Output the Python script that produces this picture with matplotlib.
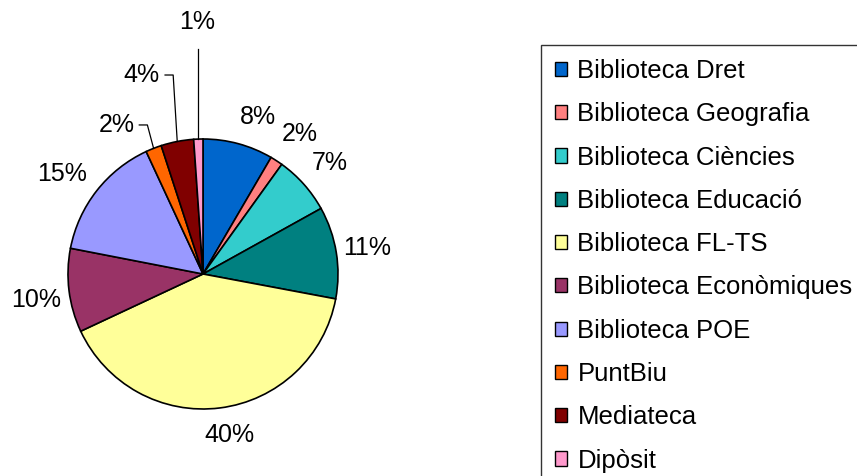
import matplotlib
matplotlib.use("Agg")
import matplotlib.pyplot as plt
import numpy as np

plt.rcParams['font.family'] = ['Liberation Sans', 'DejaVu Sans']

categories = ["Biblioteca Dret", "Biblioteca Geografia", "Biblioteca Ciències",
              "Biblioteca Educació", "Biblioteca FL-TS", "Biblioteca Econòmiques",
              "Biblioteca POE", "PuntBiu", "Mediateca", "Dipòsit"]
values = [8.4, 1.5, 7.0, 11.0, 40.0, 10.0, 15.0, 1.9, 3.9, 1.1]
colors = ["#0066CC", "#FF8080", "#33CCCC", "#008080", "#FFFF99",
          "#993366", "#9999FF", "#FF6600", "#800000", "#FF99CC"]

# label layout (axes data units, pie radius = 1)
label_pos = [(0.407, 1.163), (0.719, 1.04), (0.941, 0.822), (1.219, 0.196),
             (0.193, -1.189), (-1.235, -0.193), (-1.044, 0.741),
             (-0.639, 1.104), (-0.454, 1.474), (-0.047, 1.869)]
# leader lines: index -> start of horizontal stub (None = straight vertical)
leaders = {7: (-0.472, 1.104), 8: (-0.281, 1.474), 9: None}

W, H = 857, 476
fig = plt.figure(figsize=(W / 100, H / 100), dpi=100)
cx, cy, r = 203, 274, 135
ax = fig.add_axes([(cx - r) / W, (H - cy - r) / H, 2 * r / W, 2 * r / H])

wedges, _ = ax.pie(values, colors=colors, startangle=90, counterclock=False,
                   radius=1, wedgeprops=dict(edgecolor='black', linewidth=1.2))
ax.set_xlim(-1, 1)
ax.set_ylim(-1, 1)
ax.set_aspect('auto')
ax.axis('off')
for w in wedges:
    w.set_clip_on(False)

total = sum(values)
fs = 18
for i, (w, v) in enumerate(zip(wedges, values)):
    pct = f"{round(v / total * 100):.0f}%"
    lx, ly = label_pos[i]
    ax.text(lx, ly, pct, ha='center', va='center', fontsize=fs, clip_on=False)
    if i in leaders:
        mid = np.deg2rad((w.theta1 + w.theta2) / 2)
        ex, ey = np.cos(mid), np.sin(mid)
        if leaders[i] is None:
            xs = [ex, ex]
            ys = [ey, 1.67]
        else:
            hx, hy = leaders[i]
            xs = [hx, hx + 0.06, ex]
            ys = [hy, hy, ey]
        ax.plot(xs, ys, color='black', linewidth=0.9, clip_on=False)

leg = fig.legend(wedges, categories, loc='upper left',
                 bbox_to_anchor=(541 / W, 1 - 45 / H), frameon=True,
                 fontsize=18.5, handlelength=0.47, handleheight=0.47,
                 handletextpad=0.4, labelspacing=0.75, borderpad=0.55,
                 borderaxespad=0, fancybox=False)
leg.get_frame().set_edgecolor('black')
leg.get_frame().set_linewidth(1.0)
for h in leg.legend_handles:
    h.set_linewidth(1.0)

fig.savefig("out.png", dpi=100)
